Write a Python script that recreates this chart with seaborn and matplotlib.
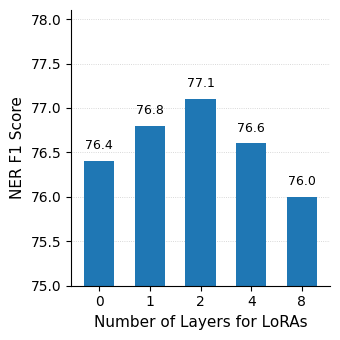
import matplotlib
matplotlib.use('Agg')
import matplotlib.pyplot as plt
import seaborn as sns
import pandas as pd

layers = ['0', '1', '2', '4', '8']
f1_scores = [76.4, 76.8, 77.1, 76.6, 76.0]

plt.rcParams['font.family'] = ['DejaVu Sans']

data = pd.DataFrame({'layers': layers, 'f1': f1_scores})

fig, ax = plt.subplots(figsize=(3.4, 3.4), dpi=100)
sns.barplot(data=data, x='layers', y='f1', color='#1f77b4', width=0.6,
            saturation=1, linewidth=0, ax=ax)

for i, v in enumerate(f1_scores):
    ax.text(i, v + 0.1, f'{v:.1f}', ha='center', va='bottom', fontsize=9)

ax.set_ylim(75, 78.1)
ax.set_xlim(-0.55, 4.55)
ax.set_yticks([75.0, 75.5, 76.0, 76.5, 77.0, 77.5, 78.0])
ax.yaxis.grid(True, linestyle=':', linewidth=0.6, color='#cccccc')
ax.set_axisbelow(True)
ax.set_xlabel('Number of Layers for LoRAs', fontsize=11)
ax.set_ylabel('NER F1 Score', fontsize=11)
ax.tick_params(labelsize=10)
sns.despine(ax=ax)

fig.subplots_adjust(left=0.21, right=0.97, top=0.97, bottom=0.16)
fig.savefig('out.png', dpi=100)
